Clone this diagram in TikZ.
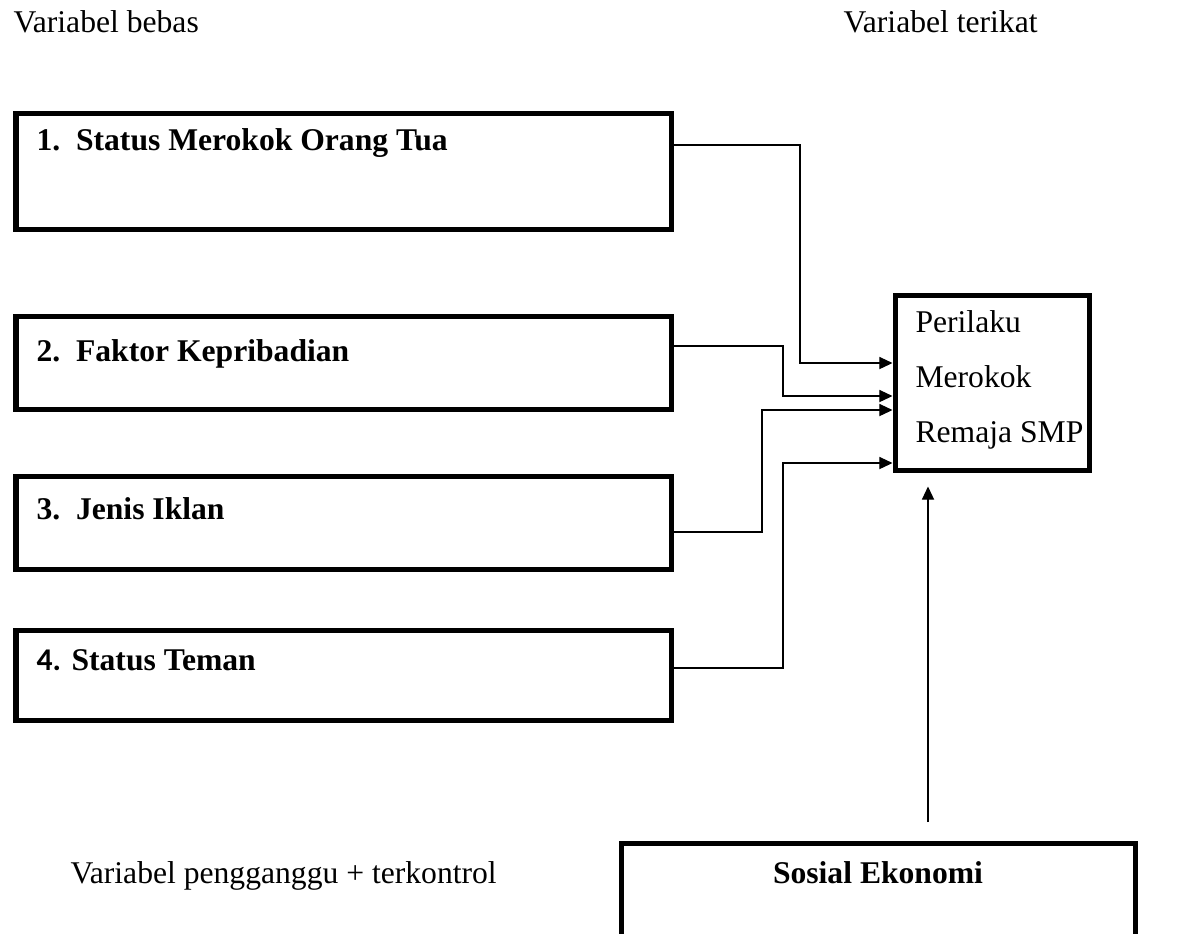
\documentclass[tikz,border=0pt]{standalone}
\usepackage{fontspec}
\setmainfont{Liberation Serif}
\newfontfamily\angkafont{Carlito}
\usetikzlibrary{arrows.meta,fit}
\tikzset{
	kotak/.style={draw, line width=1.9pt, inner sep=0pt},
	isi/.style={anchor=base west, inner sep=0pt, font=\fontsize{12}{14.4}\selectfont\bfseries},
	judul/.style={anchor=base west, inner sep=0pt},
	panah/.style={line width=0.5pt, -{Triangle[length=5pt,width=4.6pt]}},
}
\begin{document}
\begin{tikzpicture}[x=0.01333cm, y=-0.01333cm, font=\fontsize{12}{14.4}\selectfont, line join=miter]
	\useasboundingbox (0,0) rectangle (1182,933);
	\clip (0,0) rectangle (1182,933);
	% Judul kolom
	\node[judul] (bebas) at (13,32) {Variabel bebas};
	\node[judul] (terikat) at (843,32) {Variabel terikat};
	% Kotak variabel bebas
	\node[kotak, fit={(16,113) (671,229)}] (b1) {};
	\node[kotak, fit={(16,316) (671,409)}] (b2) {};
	\node[kotak, fit={(16,476) (671,569)}] (b3) {};
	\node[kotak, fit={(16,630) (671,720)}] (b4) {};
	\node[isi] (t1) at (36,150) {1.\ \ Status Merokok Orang Tua};
	\node[isi] (t2) at (36,361) {2.\ \ Faktor Kepribadian};
	\node[isi] (t3) at (36,519) {3.\ \ Jenis Iklan};
	\node[isi] (t4) at (36,670) {{\angkafont 4.} Status Teman};
	% Kotak variabel terikat
	\node[kotak, fit={(895,295) (1089,470)}] (out) {};
	\node[anchor=west, align=left, inner sep=0pt, font=\fontsize{12}{20.8}\selectfont] (tout) at (915,380) {Perilaku\\Merokok\\Remaja SMP};
	% Kotak variabel pengganggu
	\node[kotak, fit={(621,843) (1135,960)}] (sosial) {};
	\node[isi, anchor=base] (tsos) at (878,883) {Sosial Ekonomi};
	\node[judul] (ganggu) at (70,883) {Variabel pengganggu + terkontrol};
	% Panah ke variabel terikat
	\draw[panah] (b1.east |- 0,145) -| (800,363) -- (out.west |- 0,363);
	\draw[panah] (b2.east |- 0,346) -| (783,396) -- (out.west |- 0,396);
	\draw[panah] (b3.east |- 0,532) -| (762,410) -- (out.west |- 0,410);
	\draw[panah] (b4.east |- 0,668) -| (783,463) -- (out.west |- 0,463);
	\coordinate (kaki) at (928,822);
	\draw[panah, shorten >=5.3pt] (kaki) -- (kaki |- out.south);
\end{tikzpicture}
\end{document}
